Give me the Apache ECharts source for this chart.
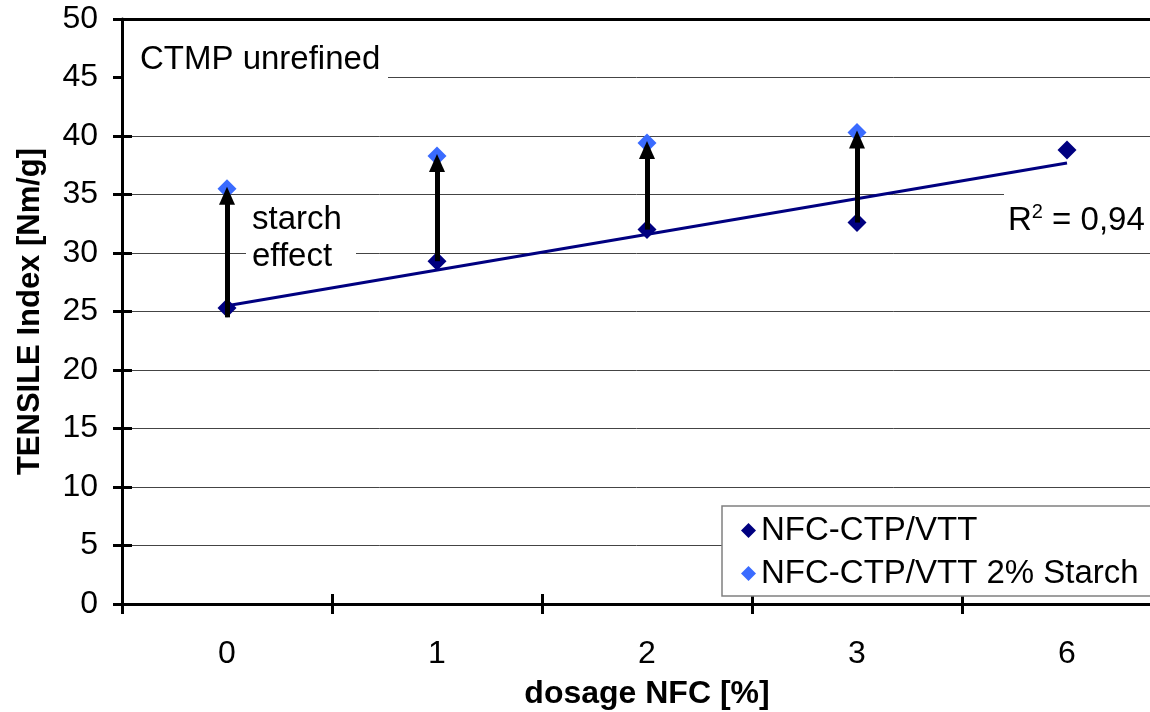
<!DOCTYPE html>
<html>
<head>
<meta charset="utf-8">
<script src="https://cdn.jsdelivr.net/npm/echarts@6/dist/echarts.min.js"></script>
<style>
  html, body { margin: 0; padding: 0; background: #fff; }
  #chart { width: 1150px; height: 712px; }
</style>
</head>
<body>
<div id="chart"></div>
<script>
  // dosage NFC [%]
  const dosages = ['0', '1', '2', '3', '6']
  // tensile index [Nm/g]
  const tensileNfc = [25.3, 29.3, 32.0, 32.6, 38.8]
  const tensileStarch = [35.5, 38.3, 39.4, 40.3]
  // linear trend of NFC-CTP/VTT, value at first and last category
  const trendEnds = [25.5, 37.7]
  const yTicks = [0, 5, 10, 15, 20, 25, 30, 35, 40, 45, 50]

  const font = '"Liberation Sans", Arial, sans-serif'
  const darkBlue = '#000080'
  const lightBlue = '#3A6BFF'

  let chart = echarts.init(document.getElementById('chart'))

  // arrows from plain to starch value
  let arrows = tensileStarch.map(function (v, i) {
    return [
      {coord: [i, tensileNfc[i] - (i === 0 ? 0.8 : 0)]},
      {coord: [i, v - 0.6]}
    ]
  })

  let option = {
    animation: false,
    backgroundColor: '#fff',
    textStyle: {fontFamily: font},
    grid: {left: 122, top: 19, width: 1050, bottom: 108, outerBoundsMode: 'none', containLabel: false},
    legend: {
      orient: 'vertical',
      left: 722,
      top: 506,
      padding: [7, 30, 5, 19],
      itemGap: 8,
      itemWidth: 15,
      itemHeight: 15,
      backgroundColor: '#fff',
      borderColor: '#808080',
      borderWidth: 1.5,
      borderRadius: 0,
      textStyle: {fontFamily: font, fontSize: 33, color: '#000', lineHeight: 35},
      data: [
        {name: 'NFC-CTP/VTT', icon: 'diamond', itemStyle: {color: darkBlue, opacity: 1}},
        {name: 'NFC-CTP/VTT 2% Starch', icon: 'diamond', itemStyle: {color: lightBlue, opacity: 1}}
      ]
    },
    xAxis: [{
      type: 'category',
      data: dosages,
      boundaryGap: true,
      name: 'dosage NFC [%]',
      nameLocation: 'middle',
      nameGap: 74,
      nameTextStyle: {fontFamily: font, fontSize: 32, fontWeight: 'bold', color: '#000'},
      axisLine: {lineStyle: {color: '#000', width: 3}},
      axisTick: {show: true, inside: false, length: 10, lineStyle: {color: '#000', width: 3}},
      axisLabel: {fontFamily: font, fontSize: 32, color: '#000', margin: 34},
      splitLine: {show: false}
    }, {
      type: 'category',
      data: dosages,
      position: 'bottom',
      boundaryGap: true,
      axisLine: {show: false},
      axisTick: {show: true, inside: true, length: 10, lineStyle: {color: '#000', width: 3}},
      axisLabel: {show: false},
      splitLine: {show: false}
    }],
    yAxis: [{
      type: 'value',
      min: yTicks[0],
      max: yTicks[yTicks.length - 1],
      interval: 5,
      name: 'TENSILE Index [Nm/g]',
      nameLocation: 'middle',
      nameGap: 76,
      nameTextStyle: {fontFamily: font, fontSize: 31, fontWeight: 'bold', color: '#000'},
      axisLine: {show: true, lineStyle: {color: '#000', width: 3}},
      axisTick: {show: true, inside: false, length: 9, lineStyle: {color: '#000', width: 3}},
      axisLabel: {fontFamily: font, fontSize: 32, color: '#000', margin: 24},
      splitLine: {show: true, lineStyle: {color: '#444', width: 1}}
    }, {
      type: 'value',
      min: yTicks[0],
      max: yTicks[yTicks.length - 1],
      interval: 5,
      position: 'left',
      axisLine: {show: false},
      axisTick: {show: true, inside: true, length: 10, lineStyle: {color: '#000', width: 3}},
      axisLabel: {show: false},
      splitLine: {show: false}
    }],
    series: [
      {
        name: 'trend',
        type: 'line',
        data: [[0, trendEnds[0]], [dosages.length - 1, trendEnds[1]]],
        symbol: 'none',
        lineStyle: {color: darkBlue, width: 3},
        silent: true,
        z: 2,
        markLine: {
          silent: true,
          symbol: 'none',
          label: {show: false},
          lineStyle: {color: '#000', width: 3, type: 'solid'},
          data: [{yAxis: yTicks[yTicks.length - 1]}]
        }
      },
      {
        name: 'arrows',
        type: 'line',
        data: [],
        silent: true,
        markLine: {
          silent: true,
          symbol: ['none', 'triangle'],
          symbolSize: [16, 18],
          label: {show: false},
          lineStyle: {color: '#000', width: 5, type: 'solid'},
          itemStyle: {color: '#000'},
          emphasis: {disabled: true},
          data: arrows
        },
        z: 3
      },
      {
        name: 'NFC-CTP/VTT',
        type: 'scatter',
        data: tensileNfc,
        symbol: 'diamond',
        symbolSize: 19,
        itemStyle: {color: darkBlue, opacity: 1},
        z: 4
      },
      {
        name: 'NFC-CTP/VTT 2% Starch',
        type: 'scatter',
        data: tensileStarch,
        symbol: 'diamond',
        symbolSize: 19,
        itemStyle: {color: lightBlue, opacity: 1},
        z: 4
      }
    ],
    graphic: [
      {type: 'rect', left: 124, top: 38, shape: {width: 264, height: 46}, style: {fill: '#fff'}, z: 10},
      {type: 'text', left: 140, top: 43, style: {text: 'CTMP unrefined', font: '33px ' + font, fill: '#000'}, z: 11},
      {type: 'rect', left: 246, top: 240, shape: {width: 110, height: 26}, style: {fill: '#fff'}, z: 10},
      {type: 'text', left: 252, top: 201, style: {text: 'starch\neffect', font: '33px ' + font, fill: '#000', lineHeight: 37}, z: 11},
      {type: 'rect', left: 1004, top: 186, shape: {width: 146, height: 60}, style: {fill: '#fff'}, z: 10},
      {
        type: 'text', left: 1008, top: 202, z: 11,
        style: {
          text: 'R{sup|2} = 0,94',
          font: '33px ' + font,
          fill: '#000',
          rich: {sup: {fontSize: 20, fontFamily: font, fill: '#000', verticalAlign: 'top', padding: [0, 0, 18, 0]}}
        }
      }
    ]
  }

  chart.setOption(option)
</script>
</body>
</html>
